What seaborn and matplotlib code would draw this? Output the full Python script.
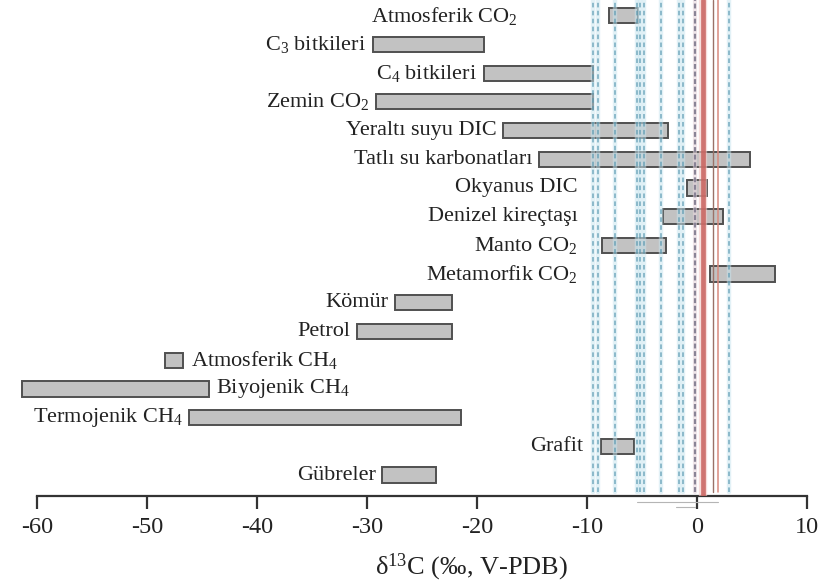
import numpy as np
import pandas as pd
import matplotlib
matplotlib.use("Agg")
import matplotlib.pyplot as plt
import matplotlib.transforms as mtransforms
import seaborn as sns

# Carbon reservoirs and their delta-13C ranges (per mil, V-PDB)
sources = [
    "Atmosferik CO$_2$", "C$_3$ bitkileri", "C$_4$ bitkileri", "Zemin CO$_2$",
    "Yeraltı suyu DIC", "Tatlı su karbonatları", "Okyanus DIC", "Denizel kireçtaşı",
    "Manto CO$_2$", "Metamorfik CO$_2$", "Kömür", "Petrol", "Atmosferik CH$_4$",
    "Biyojenik CH$_4$", "Termojenik CH$_4$", "Grafit", "Gübreler",
]
range_low = [-8.0, -29.5, -19.4, -29.2, -17.6, -14.4, -0.9, -3.1,
             -8.6, 1.15, -27.5, -30.9, -48.4, -61.4, -46.2, -8.7, -28.6]
range_high = [-5.4, -19.4, -9.5, -9.45, -2.6, 4.85, 0.9, 2.4,
              -2.85, 7.1, -22.3, -22.3, -46.7, -44.4, -21.5, -5.7, -23.7]

# Reference values marked as vertical lines
blue_dashed_values = [-9.5, -9.0, -7.45, -5.45, -5.2, -4.8, -3.3, -1.6, -1.3, 2.9]
gray_dashed_values = [-0.2]
red_thick_values = [0.5]
brown_thin_values = [1.45]
red_thin_values = [1.95]

x_ticks = [-60, -50, -40, -30, -20, -10, 0, 10]

# Where each name sits: "left" of its bar, "right" of its bar, or at a fixed x (right-aligned)
label_place = ["fixed:-16.3", "left", "left", "left", "left", "left", "fixed:-10.85",
               "fixed:-10.85", "fixed:-10.85", "fixed:-10.85", "left", "left", "right",
               "right", "left", "fixed:-10.3", "left"]

df = pd.DataFrame({"source": sources, "low": range_low, "high": range_high})
df["span"] = df["high"] - df["low"]

sns.set_theme(style="white")
plt.rcParams["font.family"] = ["Liberation Serif", "DejaVu Serif"]
plt.rcParams["mathtext.fontset"] = "custom"
plt.rcParams["mathtext.rm"] = "Liberation Serif"
plt.rcParams["mathtext.default"] = "regular"

text_color = "#222222"

fig = plt.figure(figsize=(8.19, 5.83), dpi=100)
ax = fig.add_axes([37 / 819, 87 / 583, 770 / 819, 496 / 583])

sns.barplot(data=df, x="span", y="source", orient="h", order=sources,
            color="#c2c2c2", width=0.53, edgecolor="#505050", linewidth=1.4,
            saturation=1, ax=ax, zorder=2)
# shift each bar so it starts at the low end of its range
for patch, lo in zip(ax.patches, df["low"]):
    patch.set_x(lo)
    patch.set_facecolor("#c2c2c2")
    patch.set_clip_on(False)

ax.set_xlim(-60, 10)
ax.set_ylim(16.73, -0.547)

# vertical reference lines
for v in blue_dashed_values:
    ax.axvline(v, ymin=0.008, ymax=1, color="#c6e4ef", lw=3.2, alpha=0.5, zorder=3)
    ax.axvline(v, ymin=0.008, ymax=1, color="#5898b0", lw=1.1,
               dashes=(3.0, 2.2), alpha=0.8, zorder=4)
for v in gray_dashed_values:
    ax.axvline(v, ymin=0.008, ymax=1, color="#e6d6dc", lw=3.0, alpha=0.6, zorder=3)
    ax.axvline(v, ymin=0.008, ymax=1, color="#8a8496", lw=1.6,
               dashes=(2.2, 1.2), zorder=4)
for v in red_thick_values:
    ax.axvline(v, ymin=0, ymax=1, color="#f4c9c6", lw=6.0, alpha=0.6, zorder=3)
    ax.axvline(v, ymin=0, ymax=1, color="#c8625e", lw=3.4, alpha=0.85, zorder=4)
for v in brown_thin_values:
    ax.axvline(v, ymin=0.008, ymax=1, color="#9a7268", lw=1.0, zorder=4)
for v in red_thin_values:
    ax.axvline(v, ymin=0.008, ymax=1, color="#d98a7e", lw=1.1, zorder=4)

# faint guide strokes just under the axis
trans = mtransforms.blended_transform_factory(ax.transData, ax.transAxes)
ax.plot([-5.5, 1.9], [-0.013, -0.013], transform=trans, color="#b5b5b5",
        lw=0.8, clip_on=False, zorder=1)
ax.plot([-1.9, -0.2], [-0.022, -0.022], transform=trans, color="#b5b5b5",
        lw=0.8, clip_on=False, zorder=1)

# category names
for i, (name, lo, hi, place) in enumerate(zip(sources, range_low, range_high, label_place)):
    if place == "left":
        ax.annotate(name, xy=(lo, i), xytext=(-4.5, 0), textcoords="offset points",
                    ha="right", va="center", fontsize=16, color=text_color, zorder=5)
    elif place == "right":
        ax.annotate(name, xy=(hi, i), xytext=(5.5, 0), textcoords="offset points",
                    ha="left", va="center", fontsize=16, color=text_color, zorder=5)
    else:
        xpos = float(place.split(":")[1])
        ax.text(xpos, i, name, ha="right", va="center", fontsize=16,
                color=text_color, zorder=5)

# axis styling
sns.despine(ax=ax, left=True, top=True, right=True)
ax.spines["bottom"].set_color("#333333")
ax.spines["bottom"].set_linewidth(1.6)
ax.set_yticks([])
ax.set_ylabel("")
ax.set_xticks(x_ticks)
ax.set_xticklabels([str(t) for t in x_ticks])
ax.tick_params(axis="x", direction="out", length=9, width=1.6, color="#333333",
               labelsize=17.5, labelcolor=text_color, pad=6, bottom=True)
ax.set_xlabel("δ$^{13}$C (‰, V-PDB)", fontsize=19, color=text_color)
ax.xaxis.set_label_coords(0.564, -0.113)
ax.grid(False)

fig.savefig("out.png", dpi=100)
